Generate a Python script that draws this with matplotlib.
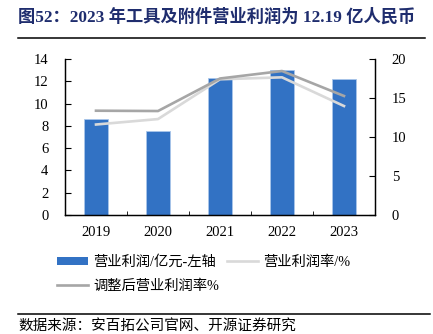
import matplotlib
matplotlib.use("Agg")
import matplotlib.pyplot as plt
from matplotlib.lines import Line2D
from matplotlib.patches import Patch

plt.rcParams['font.family'] = ['Liberation Serif', 'Noto Sans CJK SC']

years = ["2019", "2020", "2021", "2022", "2023"]
profit = [8.59, 7.54, 12.27, 13.04, 12.19]          # 营业利润/亿元
margin = [11.6, 12.3, 17.4, 17.65, 13.97]           # 营业利润率/%
adj_margin = [13.37, 13.33, 17.5, 18.46, 15.26]     # 调整后营业利润率%

fig = plt.figure(figsize=(4.33, 3.34), dpi=100)

ax = fig.add_axes([65 / 433, 1 - 215 / 334, 310 / 433, 156 / 334])
ax2 = ax.twinx()

x = list(range(len(years)))
bars = ax.bar(x, profit, width=0.385, color="#3272C4", edgecolor="#A9C6EA", linewidth=0.6, zorder=2)
ax.set_xlim(-0.5, len(years) - 0.5)
ax.set_ylim(0, 14)
ax.set_yticks(range(0, 15, 2))
ax.set_xticks(x)
ax.set_xticklabels(years)
ax.set_xticks([i + 0.5 for i in range(len(years) - 1)], minor=True)

l1, = ax2.plot(x, margin, color="#D9D9D9", lw=1.9, zorder=3)
l2, = ax2.plot(x, adj_margin, color="#A6A6A6", lw=1.9, zorder=3)
ax2.set_ylim(0, 20)
ax2.set_yticks(range(0, 21, 5))

for a in (ax, ax2):
    a.spines["top"].set_visible(False)
    for s in a.spines.values():
        s.set_linewidth(0.9)
ax.tick_params(axis="y", direction="in", length=4, labelsize=10.5, pad=12)
ax.tick_params(axis="x", which="major", length=0, labelsize=10.5, pad=8)
ax.tick_params(axis="x", which="minor", direction="in", length=3)
ax2.tick_params(axis="y", direction="in", length=4, labelsize=10.5, pad=12)

handles = [Patch(facecolor="#3272C4", edgecolor="none"),
           Line2D([], [], color="#A6A6A6", lw=1.9),
           Line2D([], [], color="#D9D9D9", lw=1.9)]
labels = ["营业利润/亿元-左轴", "调整后营业利润率%", "营业利润率/%"]
fig.legend(handles, labels, ncol=2, loc="upper left", bbox_to_anchor=(57 / 433, 1 - 255 / 334),
           frameon=False, fontsize=10.3, handlelength=2.2, handleheight=0.5, handletextpad=0.35,
           columnspacing=0.5, labelspacing=0.75, borderpad=0, borderaxespad=0)

# header / footer rules, drawn by the main axes in figure coordinates
ax.plot([18 / 433, 425 / 433], [1 - 37.5 / 334] * 2, color="black", lw=1.1,
        transform=fig.transFigure, clip_on=False, zorder=10)
ax.plot([18 / 433, 430 / 433], [1 - 313.5 / 334] * 2, color="black", lw=1.1,
        transform=fig.transFigure, clip_on=False, zorder=10)

fig.text(18 / 433, 1 - 17 / 334, "图52：2023 年工具及附件营业利润为 12.19 亿人民币",
         fontsize=12.4, fontweight="bold", color="#1F2D6E", va="center", ha="left")
fig.text(18 / 433, 1 - 327 / 334, "数据来源：安百拓公司官网、开源证券研究",
         fontsize=10.5, va="center", ha="left")

fig.savefig("out.png", dpi=100)
